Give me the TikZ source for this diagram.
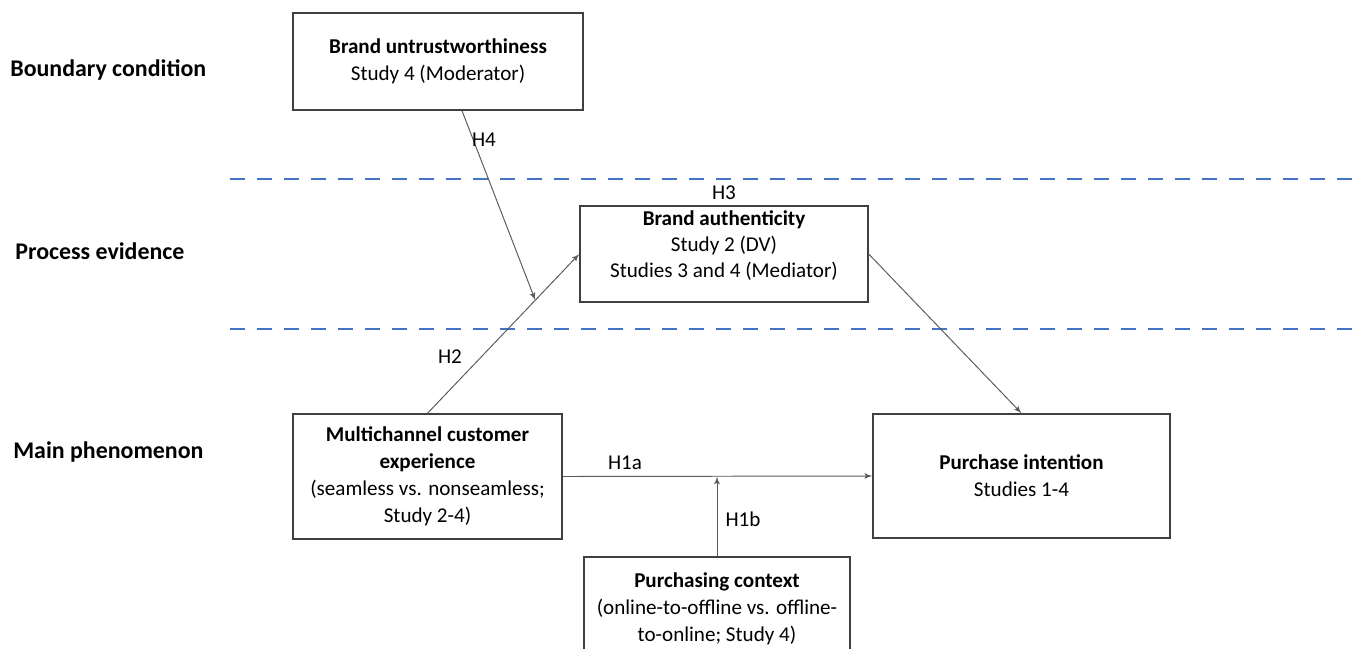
\documentclass[tikz,border=0pt]{standalone}
\usepackage{fontspec}
\setmainfont{Carlito}
\usepackage{tikz}
\usetikzlibrary{arrows,calc}

\definecolor{bandblue}{HTML}{4472C4}
\definecolor{boxgray}{HTML}{404040}
\definecolor{arrowgray}{HTML}{5A5A5A}

\begin{document}
\begin{tikzpicture}[>=latex', auto,
    box/.style={draw=boxgray, line width=0.8pt, align=center, inner sep=2pt,
                font=\fontsize{12}{15.3}\selectfont},
    boxtext/.style={align=center, inner sep=0pt, font=\fontsize{12}{15}\selectfont},
    level/.style={anchor=west, inner sep=0pt, font=\fontsize{13.6}{16}\selectfont\bfseries},
    hyp/.style={font=\fontsize{12}{14}\selectfont},
    link/.style={->, draw=arrowgray, line width=0.55pt},
    band/.style={draw=bandblue, line width=1.7pt, dash pattern=on 0.3cm off 0.24cm}]
    \useasboundingbox (0,0) rectangle (27.08,-12.96);

    % Levels on the left
    \node [level] (lbound) at (0.2,-1.40)  {Boundary condition};
    \node [level] (lproc)  at (0.3,-5.02)  {Process evidence};
    \node [level] (lmain)  at (0.26,-9.04) {Main phenomenon};

    % Dashed band lines
    \coordinate (b1l) at (4.6,-3.58);   \coordinate (b1r) at (27.08,-3.58);
    \coordinate (b2l) at (4.6,-6.58);   \coordinate (b2r) at (27.08,-6.58);
    \draw [band] (b1l) -- (b1r);
    \draw [band] (b2l) -- (b2r);

    % Boxes
    \node [box, minimum width=5.8cm,  minimum height=1.94cm] (bu) at (8.76,-1.23)
        {\textbf{Brand untrustworthiness}\\Study 4 (Moderator)};
    \node [box, minimum width=5.76cm, minimum height=1.92cm] (ba) at (14.48,-5.08) {};
    \node [boxtext] (batext) at ([yshift=0.17cm]ba.center)
        {\textbf{Brand authenticity}\\Study 2 (DV)\\Studies 3 and 4 (Mediator)};
    \node [box, minimum width=5.38cm, minimum height=2.5cm]  (mc) at (8.55,-9.53)
        {\textbf{Multichannel customer}\\\textbf{experience}\\(seamless vs. nonseamless;\\Study 2-4)};
    \node [box, minimum width=5.94cm, minimum height=2.48cm] (pi) at (20.43,-9.52)
        {\textbf{Purchase intention}\\Studies 1-4};
    \node [box, minimum width=5.32cm, minimum height=2.08cm] (pc) at (14.34,-12.18)
        {\textbf{Purchasing context}\\(online-to-offline vs. offline-\\to-online; Study 4)};

    % Helper coordinates
    \coordinate (bustart) at ($(bu.south)+(0.48,0)$);
    \coordinate (modpt)   at ($(mc.north)!0.71!(ba.west)$);
    \coordinate (ctxpt)   at (pc.north |- mc.east);

    % Paths
    \draw [link] (mc.north) -- (ba.west);
    \draw [link] (bustart)  -- (modpt);
    \draw [link] (ba.east)  -- (pi.north);
    \draw [link] (mc.east)  -- (pi.west);
    \draw [link] (pc.north) -- (ctxpt);

    % Hypothesis labels
    \node [hyp] (h4)  at (9.68,-2.80)  {H4};
    \node [hyp] (h3)  at (14.48,-3.86) {H3};
    \node [hyp] (h2)  at (9.00,-7.14)  {H2};
    \node [hyp] (h1a) at (12.50,-9.26) {H1a};
    \node [hyp] (h1b) at (14.86,-10.38){H1b};

\end{tikzpicture}
\end{document}
